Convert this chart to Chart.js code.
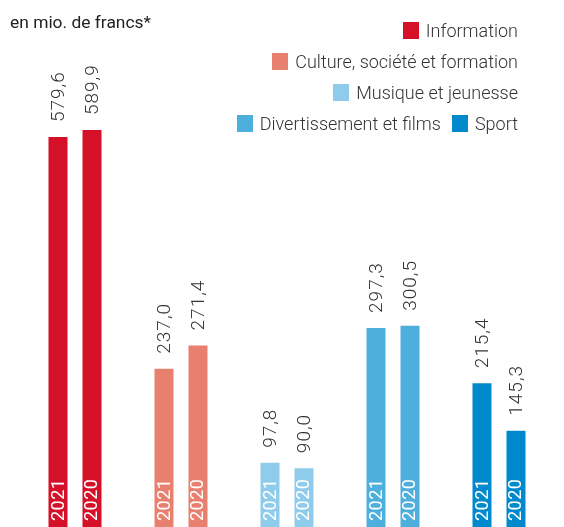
<!DOCTYPE html>
<html>
<head>
<meta charset="utf-8">
<script src="https://cdn.jsdelivr.net/npm/chart.js@4"></script>
<style>
  html, body { margin: 0; padding: 0; background: #fff; overflow: hidden; }
  #wrap { position: relative; width: 564px; height: 527px; overflow: hidden; font-family: Roboto, sans-serif; }
  #chart { position: absolute; left: 0; top: 0; }
  #title { position: absolute; left: 10px; top: 12px; font-size: 17.4px; color: #222; }
  #legend { position: absolute; right: 46px; top: 15px; font-size: 18px; font-weight: 300; color: #333; }
  .row { display: flex; justify-content: flex-end; align-items: center; height: 31px; }
  .item { display: flex; align-items: center; margin-left: 11px; white-space: nowrap; }
  .box { width: 16px; height: 17px; margin-right: 7px; }
</style>
</head>
<body>
<div id="wrap">
  <canvas id="chart" width="564" height="530"></canvas>
  <div id="title">en mio. de francs*</div>
  <div id="legend"></div>
</div>
<script>
const categories = ['Information', 'Culture, société et formation', 'Musique et jeunesse', 'Divertissement et films', 'Sport'];
const years = ['2021', '2020'];
const values2021 = [579.6, 237.0, 97.8, 297.3, 215.4];
const values2020 = [589.9, 271.4, 90.0, 300.5, 145.3];
const colors = ['#d51129', '#e8806f', '#8fcbeb', '#4eafdd', '#008acd'];
const legendRows = [[0], [1], [2], [3, 4]];

// legend as html, rows right aligned
const legend = document.getElementById('legend');
legendRows.forEach(r => {
    const row = document.createElement('div');
    row.className = 'row';
    r.forEach(i => {
        const item = document.createElement('div');
        item.className = 'item';
        item.innerHTML = `<span class="box" style="background:${colors[i]}"></span>${categories[i]}`;
        row.appendChild(item);
    });
    legend.appendChild(row);
});

const fmt = v => v.toFixed(1).replace('.', ',');

const barLabels = {
    id: 'barLabels',
    afterDatasetsDraw(chart) {
        const ctx = chart.ctx;
        const bottom = chart.chartArea.bottom;
        chart.data.datasets.forEach((ds, di) => {
            chart.getDatasetMeta(di).data.forEach((bar, j) => {
                ctx.save();
                ctx.font = '300 19px Roboto';
                ctx.letterSpacing = '1px';
                ctx.textAlign = 'left';
                ctx.textBaseline = 'middle';
                ctx.fillStyle = '#333';
                ctx.translate(bar.x + 1, bar.y - 15);
                ctx.rotate(-Math.PI / 2);
                ctx.fillText(fmt(ds.data[j]), 0, 0);
                ctx.restore();

                ctx.save();
                ctx.font = '18px Roboto';
                ctx.letterSpacing = '0.5px';
                ctx.textAlign = 'left';
                ctx.textBaseline = 'middle';
                ctx.fillStyle = '#fff';
                ctx.translate(bar.x + 1, bottom - 8);
                ctx.rotate(-Math.PI / 2);
                ctx.fillText(ds.label, 0, 0);
                ctx.restore();
            });
        });
    }
};

new Chart(document.getElementById('chart'), {
    type: 'bar',
    data: {
        labels: categories,
        datasets: [
            { label: years[0], data: values2021, backgroundColor: colors },
            { label: years[1], data: values2020, backgroundColor: colors }
        ]
    },
    options: {
        responsive: false,
        animation: false,
        layout: { padding: { left: 22, right: 12, top: 0, bottom: 1 } },
        datasets: { bar: { categoryPercentage: 0.6415, barPercentage: 0.559 } },
        plugins: { legend: { display: false }, tooltip: { enabled: false } },
        scales: {
            x: { display: false },
            y: { display: false, min: 0, max: 782.2 }
        }
    },
    plugins: [barLabels]
});
</script>
</body>
</html>
